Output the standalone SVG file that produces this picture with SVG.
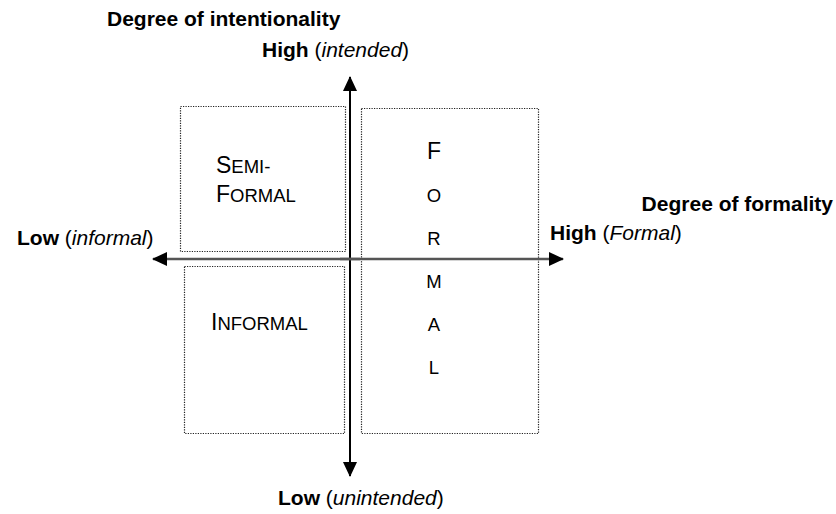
<svg xmlns="http://www.w3.org/2000/svg" width="836" height="514" viewBox="0 0 836 514">
<style>
.box{fill:none;stroke:#222;stroke-width:1.2;stroke-dasharray:1.2 1.3}
.lbl{font-family:"Liberation Sans",Arial,sans-serif;font-size:21px;fill:#000}
.b{font-weight:bold}
.it{font-style:italic}
.cap{font-family:"Liberation Sans",Arial,sans-serif;font-size:23px;fill:#000}
.sc{font-size:18.5px}
.col{font-family:"Liberation Sans",Arial,sans-serif;fill:#000;text-anchor:middle}
</style>
<defs>
<marker id="ah" markerUnits="userSpaceOnUse" markerWidth="15" markerHeight="14" refX="14" refY="7" orient="auto">
<path d="M0,0 L15,7 L0,14 Z" fill="#000"/>
</marker>
</defs>
<rect width="836" height="514" fill="#fff"/>
<g id="semiformal">
<rect class="box" x="180.5" y="106.5" width="165" height="145"/>
<text class="cap" x="216" y="173">S<tspan class="sc">EMI-</tspan></text>
<text class="cap" x="216" y="202">F<tspan class="sc">ORMAL</tspan></text>
</g>
<g id="informal">
<rect class="box" x="184.5" y="266.5" width="160" height="167"/>
<text class="cap" x="211" y="330">I<tspan class="sc">NFORMAL</tspan></text>
</g>
<g id="formal">
<rect class="box" x="361.5" y="108.5" width="177" height="325"/>
<text class="col" x="434" y="159" font-size="23">F</text>
<text class="col" x="434" y="202" font-size="18.5">O</text>
<text class="col" x="434" y="245" font-size="18.5">R</text>
<text class="col" x="434" y="288" font-size="18.5">M</text>
<text class="col" x="434" y="331" font-size="18.5">A</text>
<text class="col" x="434" y="374" font-size="18.5">L</text>
</g>
<g id="connectors">
<line x1="350" y1="460" x2="350" y2="77" stroke="#000" stroke-width="2" marker-end="url(#ah)"/>
<line x1="350" y1="100" x2="350" y2="476" stroke="#000" stroke-width="2" marker-end="url(#ah)"/>
<line x1="360" y1="259" x2="153" y2="259" stroke="#555" stroke-width="2.5" marker-end="url(#ah)"/>
<line x1="340" y1="259" x2="563" y2="259" stroke="#555" stroke-width="2.5" marker-end="url(#ah)"/>
</g>
<g id="axis-labels">
<text class="lbl b" x="107" y="26">Degree of intentionality</text>
<text class="lbl" x="262" y="57"><tspan class="b">High</tspan> (<tspan class="it">intended</tspan>)</text>
<text class="lbl" x="17" y="245"><tspan class="b">Low</tspan> (<tspan class="it">informal</tspan>)</text>
<text class="lbl b" x="833" y="211" text-anchor="end">Degree of formality</text>
<text class="lbl" x="550" y="240"><tspan class="b">High</tspan> (<tspan class="it">Formal</tspan>)</text>
<text class="lbl" x="278" y="505"><tspan class="b">Low</tspan> (<tspan class="it">unintended</tspan>)</text>
</g>
</svg>
